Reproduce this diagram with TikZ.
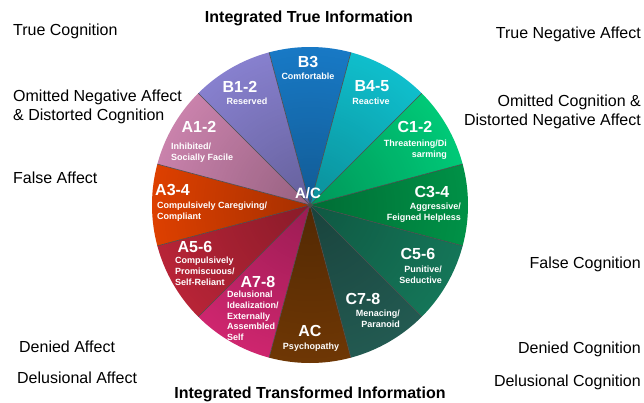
\documentclass[tikz,border=0pt]{standalone}
\usepackage{fontspec}
\setmainfont{Liberation Sans}
\usepackage{tikz}
\usetikzlibrary{fadings}

\definecolor{SecBthree}{HTML}{1C8CE4}
\definecolor{SecBfour}{HTML}{12DCEC}
\definecolor{SecConeTwo}{HTML}{00E88A}
\definecolor{SecCthree}{HTML}{00A852}
\definecolor{SecCfive}{HTML}{188866}
\definecolor{SecCseven}{HTML}{28685E}
\definecolor{SecAC}{HTML}{804006}
\definecolor{SecAseven}{HTML}{EE2C80}
\definecolor{SecAfive}{HTML}{D42A40}
\definecolor{SecAthree}{HTML}{FF4A00}
\definecolor{SecAone}{HTML}{E896C6}
\definecolor{SecBone}{HTML}{9C94EE}
\tikzfading[name=pieshade, inner color=transparent!65, outer color=transparent!100]

\begin{document}
\begin{tikzpicture}[x=1pt, y=1pt,
  head/.style={anchor=base, text=white, font=\fontsize{16}{19}\selectfont\bfseries, inner sep=0pt},
  sub/.style={text=white, font=\fontsize{9}{10.8}\selectfont\bfseries, inner sep=0pt},
  side/.style={font=\fontsize{16}{19}\selectfont, inner sep=0pt},
  title/.style={anchor=base, font=\fontsize{16}{19}\selectfont\bfseries, inner sep=0pt},
  border/.style={draw=black!70, line width=0.6pt},
]
  \useasboundingbox (-310,-197) rectangle (334,205);
  \def\rad{158}
  \coordinate (ctr) at (0,0);
  % twelve sectors, clockwise from the top
  \foreach \ang/\col in {90/SecBthree, 60/SecBfour, 30/SecConeTwo, 0/SecCthree,
      -30/SecCfive, -60/SecCseven, -90/SecAC, -120/SecAseven, -150/SecAfive,
      -180/SecAthree, -210/SecAone, -240/SecBone}
    \fill[\col] (ctr) -- (\ang+15:\rad) arc[start angle=\ang+15, end angle=\ang-15, radius=\rad] -- cycle;
  % darker towards the middle
  \begin{scope}
    \clip (ctr) circle[radius=\rad];
    \fill[black, path fading=pieshade] (ctr) circle[radius=1.6*\rad];
  \end{scope}
  \foreach \ang in {15,45,...,345}
    \draw[border] (ctr) -- (\ang:\rad);

  % sector labels
  \node[head] (b3) at (-2,137.3) {B3};
  \node[sub, anchor=north] (b3s) at (-2,132.3) {Comfortable};
  \node[head] (b45) at (62,113.3) {B4-5};
  \node[sub, anchor=north] (b45s) at (61,107.3) {Reactive};
  \node[head] (c12) at (105,72.3) {C1-2};
  \node[sub, anchor=north east, align=right] (c12s) at (137,65.3) {Threatening/Di\\sarming};
  \node[head] (c34) at (122,7.3) {C3-4};
  \node[sub, anchor=north east, align=right] (c34s) at (151,2.3) {Aggressive/\\Feigned Helpless};
  \node[head] (c56) at (108,-54.7) {C5-6};
  \node[sub, anchor=north east, align=right] (c56s) at (132,-60.7) {Punitive/\\Seductive};
  \node[head] (c78) at (53,-99.7) {C7-8};
  \node[sub, anchor=north east, align=right] (c78s) at (90,-104.7) {Menacing/\\Paranoid};
  \node[head] (ac) at (0,-131.7) {AC};
  \node[sub, anchor=north] (acs) at (1,-137.7) {Psychopathy};
  \node[head] (a78) at (-52,-82.7) {A7-8};
  \node[sub, anchor=north west, align=left] (a78s) at (-83,-85.7) {Delusional\\Idealization/\\Externally\\Assembled\\Self};
  \node[head] (a56) at (-115,-47.7) {A5-6};
  \node[sub, anchor=north west, align=left] (a56s) at (-135,-51.7) {Compulsively\\Promiscuous/\\Self-Reliant};
  \node[head, anchor=base west] (a34) at (-155,9.3) {A3-4};
  \node[sub, anchor=north west, align=left] (a34s) at (-153,3.3) {Compulsively Caregiving/\\Compliant};
  \node[head] (a12) at (-111,72.3) {A1-2};
  \node[sub, anchor=north west, align=left] (a12s) at (-139,62.3) {Inhibited/\\Socially Facile};
  \node[head] (b12) at (-70,112.3) {B1-2};
  \node[sub, anchor=north] (b12s) at (-63,107.3) {Reserved};
  \node[head, font=\fontsize{15}{18}\selectfont\bfseries] (mid) at (-2,6.6) {A/C};

  % titles
  \node[title] (toptitle) at (-1,182.3) {Integrated True Information};
  \node[title] (bottitle) at (0,-193.7) {Integrated Transformed Information};

  % left side
  \node[side, anchor=base west] (l1) at (-297,169.3) {True Cognition};
  \node[side, anchor=north west, align=left] (l2) at (-297,115.7) {Omitted Negative Affect\\\& Distorted Cognition};
  \node[side, anchor=base west] (l3) at (-297,21.3) {False Affect};
  \node[side, anchor=base west] (l4) at (-291,-147.7) {Denied Affect};
  \node[side, anchor=base west] (l5) at (-293,-178.7) {Delusional Affect};
  % right side
  \node[side, anchor=base east] (r1) at (331,166.3) {True Negative Affect};
  \node[side, anchor=north east, align=right] (r2) at (331,110.7) {Omitted Cognition \&\\Distorted Negative Affect};
  \node[side, anchor=base east] (r3) at (331,-63.7) {False Cognition};
  \node[side, anchor=base east] (r4) at (331,-148.7) {Denied Cognition};
  \node[side, anchor=base east] (r5) at (331,-181.7) {Delusional Cognition};
\end{tikzpicture}
\end{document}
